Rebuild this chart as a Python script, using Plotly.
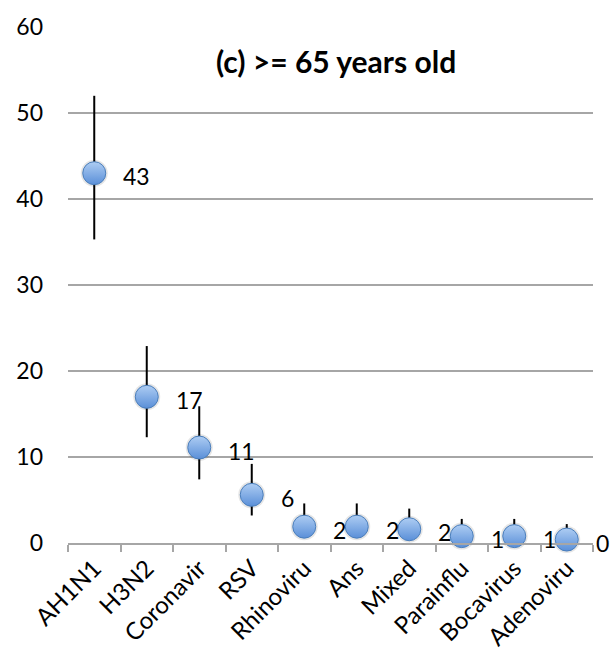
import plotly.graph_objects as go

# Virus categories and estimated shares (%) with confidence bounds
categories = ["AH1N1", "H3N2", "Coronavir", "RSV", "Rhinoviru",
              "Ans", "Mixed", "Parainflu", "Bocavirus", "Adenoviru"]
values = [43.0, 17.0, 11.1, 5.6, 1.9, 1.9, 1.6, 0.8, 0.8, 0.4]
upper = [52.0, 22.9, 15.9, 9.2, 4.6, 4.6, 4.0, 2.8, 2.8, 2.2]
lower = [35.3, 12.3, 7.4, 3.2, 0.9, 0.9, 0.8, 0.3, 0.3, 0.1]
y_ticks = [0, 10, 20, 30, 40, 50, 60]

err_plus = [u - v for u, v in zip(upper, values)]
err_minus = [v - l for v, l in zip(values, lower)]

FONT = "Lato"
GRID = "#a6a6a6"

fig = go.Figure()

# soft halo under the markers
fig.add_trace(go.Scatter(
    x=categories, y=values, mode="markers",
    marker=dict(size=27, color="rgba(0,0,0,0.10)", line=dict(width=0)),
    hoverinfo="skip", showlegend=False, cliponaxis=False,
))

fig.add_trace(go.Scatter(
    x=categories, y=values, mode="markers",
    marker=dict(
        size=23,
        color="#aecdf3",
        gradient=dict(type="vertical", color="#5a8fd8"),
        line=dict(color="#4a7ebb", width=1),
    ),
    error_y=dict(
        type="data", symmetric=False,
        array=err_plus, arrayminus=err_minus,
        color="black", thickness=2, width=0,
    ),
    showlegend=False, cliponaxis=False,
))

# value labels to the right of each point
for cat, v in zip(categories, values):
    fig.add_annotation(
        x=cat, y=v, text=f"{v:.0f}", showarrow=False,
        xanchor="left", yanchor="middle", xshift=27, yshift=-3,
        font=dict(family=FONT, size=23, color="black"),
    )

fig.add_annotation(
    x=0.51, y=0.935, xref="paper", yref="paper",
    text="<b>(c) >= 65 years old</b>", showarrow=False,
    xanchor="center", yanchor="middle",
    font=dict(family=FONT, size=30, color="black"),
)

fig.update_layout(
    width=616, height=670,
    margin=dict(l=68, r=23, t=15, b=127),
    paper_bgcolor="white", plot_bgcolor="white",
    font=dict(family=FONT, size=23, color="black"),
    xaxis=dict(
        type="category", categoryorder="array", categoryarray=categories,
        range=[-0.5, len(categories) - 0.5],
        showline=True, linecolor=GRID, linewidth=1.5,
        ticks="outside", tickson="boundaries", ticklen=7,
        tickcolor=GRID, tickwidth=1.5,
        tickangle=-45, showgrid=False, zeroline=False,
        tickfont=dict(family=FONT, size=24, color="black"),
    ),
    yaxis=dict(
        range=[0, 60], tickvals=y_ticks,
        showgrid=True, gridcolor=GRID, gridwidth=1.5,
        showline=False, zeroline=False, ticks="",
        ticklabelstandoff=24,
        tickfont=dict(family=FONT, size=23, color="black"),
    ),
)

fig.write_html("out.html")
